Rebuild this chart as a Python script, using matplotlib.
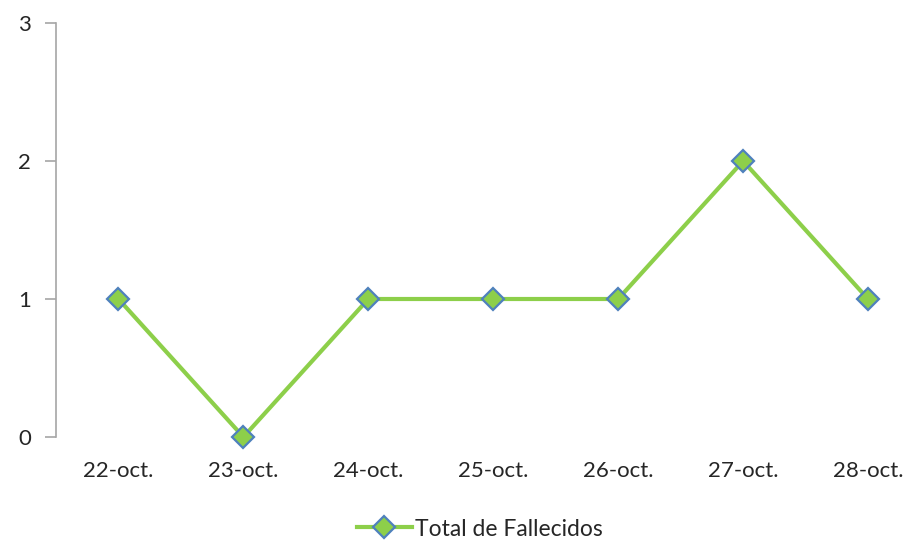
import matplotlib.pyplot as plt

# data
dates = ["22-oct.", "23-oct.", "24-oct.", "25-oct.", "26-oct.", "27-oct.", "28-oct."]
fallecidos = [1, 0, 1, 1, 1, 2, 1]
series_label = "Total de Fallecidos"

plt.rcParams['font.family'] = ['Lato', 'DejaVu Sans']

fig = plt.figure(figsize=(9.09, 5.4), dpi=100)
ax = fig.add_axes([56 / 909, 1 - 437 / 540, 1 - 56 / 909, (437 - 23) / 540])

x = list(range(len(dates)))
ax.plot(x, fallecidos, color="#8DCF4A", linewidth=3.0, marker="D", markersize=11,
        markerfacecolor="#8DCF4A", markeredgecolor="#4F81BD", markeredgewidth=1.6,
        label=series_label, clip_on=False, zorder=3)

ax.set_xlim(-0.5, (909 - 118) / 125)
ax.set_ylim(0, 3)
ax.set_yticks([0, 1, 2, 3])
ax.set_xticks(x)
ax.set_xticklabels(dates)

for side in ["top", "right", "bottom"]:
    ax.spines[side].set_visible(False)
ax.spines["left"].set_color("#A6A6A6")
ax.spines["left"].set_linewidth(1.2)

ax.tick_params(axis="y", length=8, width=1.2, color="#A6A6A6", labelsize=16, pad=10,
               labelcolor="#262626")
ax.tick_params(axis="x", length=0, labelsize=16, pad=17, labelcolor="#262626")

leg = fig.legend(loc="center", bbox_to_anchor=(0.528, 1 - 529 / 540), frameon=False,
                 fontsize=16.5, handlelength=2.4, handletextpad=0.15)
for t in leg.get_texts():
    t.set_color("#262626")

fig.savefig("out.png", dpi=100)
